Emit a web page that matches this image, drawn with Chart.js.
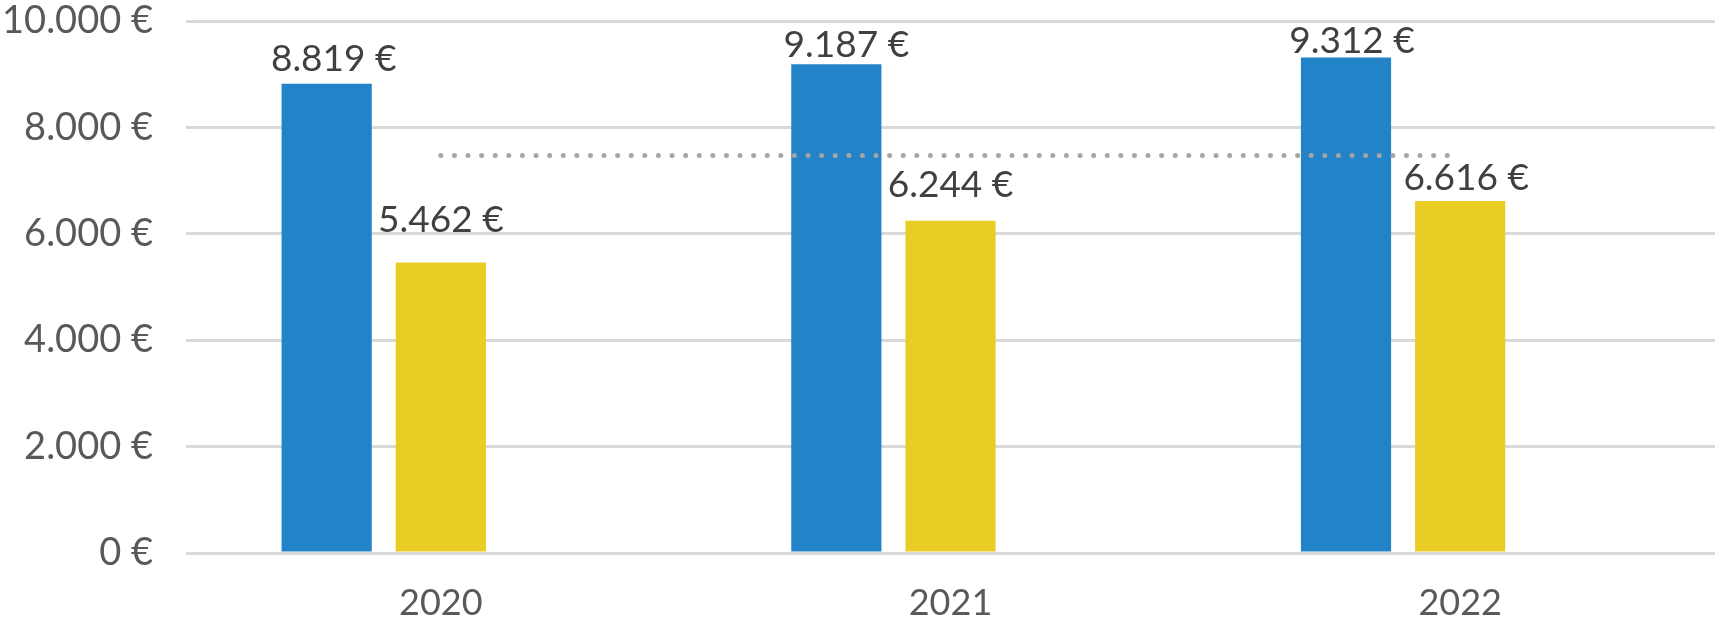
<!DOCTYPE html>
<html>
<head>
<meta charset="utf-8">
<script src="https://cdn.jsdelivr.net/npm/chart.js@4/dist/chart.umd.min.js"></script>
<style>
    html, body { margin: 0; padding: 0; background: #ffffff; }
    canvas { display: block; }
</style>
</head>
<body>
<canvas id="costChart" width="1715" height="627"></canvas>
<script>
const years = ["2020", "2021", "2022"];
const seriesA = [8819, 9187, 9312];
const seriesB = [5462, 6244, 6616];
const spacer = [0, 0, 0];
const averageLine = [7470, 7470, 7470];
const yTicks = [0, 2000, 4000, 6000, 8000, 10000];

// value labels were nudged by hand in the original, per bar (px)
const labelLift = [[13, 7, 5], [30, 24, 11]];
const labelShift = [[7, 10, 6], [0, 0, 6]];

function euro(v)
{
    return v.toLocaleString("de-DE") + " €";
}

const valueLabels = {
    id: "valueLabels",
    afterDatasetsDraw(chart)
    {
        const ctx = chart.ctx;
        ctx.save();
        ctx.font = "37px Lato";
        ctx.fillStyle = "#404040";
        ctx.textAlign = "center";
        ctx.textBaseline = "alphabetic";
        [1, 2].forEach(function (i) {
            const meta = chart.getDatasetMeta(i);
            meta.data.forEach(function (bar, j) {
                ctx.fillText(euro(chart.data.datasets[i].data[j]),
                    bar.x + labelShift[i - 1][j],
                    bar.y - labelLift[i - 1][j]);
            });
        });
        ctx.restore();
    }
};

/* global Chart */
new Chart(document.getElementById("costChart"), {
    data: {
        labels: years,
        datasets: [
            {
                type: "line",
                data: averageLine,
                borderColor: "#A5A5A5",
                borderWidth: 5,
                borderDash: [0, 13.6],
                borderCapStyle: "round",
                pointRadius: 0,
                order: 0
            },
            {
                type: "bar",
                data: seriesA,
                backgroundColor: "#2283C8",
                order: 1
            },
            {
                type: "bar",
                data: seriesB,
                backgroundColor: "#EACD24",
                order: 1
            },
            {
                type: "bar",
                data: spacer,
                backgroundColor: "rgba(0,0,0,0)",
                order: 1
            }
        ]
    },
    options: {
        responsive: false,
        animation: false,
        devicePixelRatio: 1,
        categoryPercentage: 0.672,
        barPercentage: 0.79,
        layout: { padding: { top: 21, right: 0, bottom: 0, left: 0 } },
        plugins: {
            legend: { display: false },
            tooltip: { enabled: false }
        },
        scales: {
            x: {
                afterFit(axis) { axis.height = 74; },
                grid: { display: false },
                border: { display: false },
                ticks: {
                    font: { family: "Lato", size: 36 },
                    color: "#595959",
                    padding: 21
                }
            },
            y: {
                min: 0,
                max: 10000,
                afterBuildTicks(axis) {
                    axis.ticks = yTicks.map(function (v) { return { value: v }; });
                },
                afterFit(axis) {
                    axis.width = 186;
                    axis.paddingTop = 0;
                    axis.paddingBottom = 0;
                },
                grid: { color: "#D9D9D9", lineWidth: 3, drawTicks: false },
                border: { display: false },
                ticks: {
                    font: { family: "Lato", size: 38 },
                    color: "#595959",
                    padding: 33,
                    callback: function (v) { return euro(v); }
                }
            }
        }
    },
    plugins: [valueLabels]
});
</script>
</body>
</html>
